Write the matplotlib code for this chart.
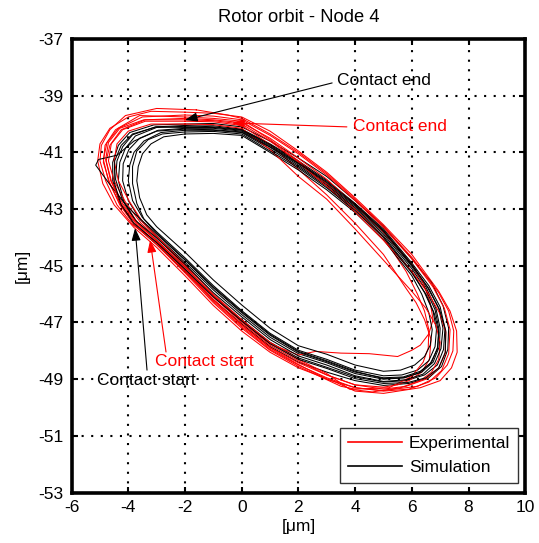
from matplotlib import pyplot as plt
import numpy as np

plt.rcParams['font.family'] = ['Liberation Sans', 'DejaVu Sans']
plt.rcParams['font.size'] = 12.5
plt.rcParams['axes.unicode_minus'] = False  # 用普通减号

# 坐标轴范围和刻度
x_ticks = [-6, -4, -2, 0, 2, 4, 6, 8, 10]
y_ticks = [-53, -51, -49, -47, -45, -43, -41, -39, -37]

# 仿真轨迹 (黑色), 每圈一组 (x, y)
sim_a = [(-2.0, -40.0), (-1.0, -39.98), (0.0, -40.1), (1.0, -40.6), (2.0, -41.2), (3.0, -41.85), (4.0, -42.7),
         (5.0, -43.6), (6.0, -44.75), (6.7, -45.6), (7.1, -46.4), (7.3, -47.2), (7.27, -47.95), (7.05, -48.55),
         (6.6, -48.95), (5.9, -49.15), (5.0, -49.22), (4.0, -49.05), (3.0, -48.75), (2.0, -48.4), (1.0, -47.85),
         (0.0, -47.05), (-1.0, -46.2), (-2.0, -45.2), (-3.0, -44.25), (-3.8, -43.55), (-4.3, -42.8), (-4.55, -42.0),
         (-4.55, -41.35), (-4.35, -40.75), (-3.95, -40.3), (-3.1, -40.03)]
sim_b = [(-2.0, -40.08), (-1.0, -40.06), (0.0, -40.18), (1.0, -40.7), (2.0, -41.3), (3.0, -41.98), (4.0, -42.8),
         (5.0, -43.7), (6.0, -44.9), (6.6, -45.7), (7.0, -46.45), (7.17, -47.2), (7.12, -47.95), (6.9, -48.5),
         (6.45, -48.85), (5.8, -49.05), (5.0, -49.1), (4.0, -48.92), (3.0, -48.58), (2.0, -48.25), (1.0, -47.7),
         (0.0, -46.9), (-1.0, -46.05), (-2.0, -45.05), (-3.0, -44.1), (-3.7, -43.45), (-4.15, -42.75), (-4.35, -42.0),
         (-4.3, -41.35), (-4.1, -40.85), (-3.75, -40.42), (-3.0, -40.12)]
sim_c = [(-2.0, -40.15), (-1.0, -40.15), (0.0, -40.25), (1.0, -40.8), (2.0, -41.4), (3.0, -42.1), (4.0, -42.9),
         (5.0, -43.82), (6.0, -45.02), (6.5, -45.75), (6.85, -46.5), (7.0, -47.2), (6.97, -47.85), (6.75, -48.4),
         (6.35, -48.75), (5.75, -48.95), (5.0, -49.0), (4.0, -48.8), (3.0, -48.42), (2.0, -48.1), (1.0, -47.52),
         (0.0, -46.72), (-1.0, -45.85), (-2.0, -44.88), (-3.0, -43.95), (-3.6, -43.35), (-4.0, -42.7), (-4.2, -42.0),
         (-4.18, -41.4), (-3.98, -40.9), (-3.6, -40.5), (-2.95, -40.22)]
sim_d = [(-2.0, -40.22), (-1.0, -40.22), (0.0, -40.3), (1.0, -40.88), (2.0, -41.5), (3.0, -42.2), (4.0, -43.0),
         (5.0, -43.95), (6.0, -45.2), (6.45, -45.95), (6.75, -46.6), (6.87, -47.25), (6.82, -47.85), (6.6, -48.35),
         (6.2, -48.68), (5.65, -48.85), (5.0, -48.88), (4.0, -48.68), (3.0, -48.3), (2.0, -47.98), (1.0, -47.38),
         (0.0, -46.58), (-1.0, -45.7), (-2.0, -44.72), (-3.0, -43.8), (-3.5, -43.3), (-3.85, -42.7), (-4.0, -42.0),
         (-3.95, -41.45), (-3.8, -41.0), (-3.45, -40.6), (-2.85, -40.3)]
sim_e = [(-2.0, -40.35), (-1.0, -40.33), (0.0, -40.4), (1.0, -41.0), (2.0, -41.62), (3.0, -42.32), (4.0, -43.12),
         (5.0, -44.08), (6.0, -45.35), (6.35, -46.0), (6.6, -46.65), (6.72, -47.25), (6.65, -47.8), (6.45, -48.2),
         (6.1, -48.5), (5.6, -48.68), (5.0, -48.72), (4.0, -48.5), (3.0, -48.12), (2.0, -47.82), (1.0, -47.2),
         (0.0, -46.38), (-1.0, -45.5), (-2.0, -44.52), (-3.0, -43.62), (-3.35, -43.2), (-3.6, -42.6), (-3.7, -42.0),
         (-3.65, -41.5), (-3.5, -41.05), (-3.2, -40.7), (-2.75, -40.45)]
sim_f = [(-2.0, -40.05), (-1.0, -40.1), (0.0, -40.2), (1.0, -40.72), (2.0, -41.35), (3.0, -42.02), (4.0, -42.82),
         (5.0, -43.75), (6.0, -44.95), (6.55, -45.75), (6.95, -46.5), (7.1, -47.2), (7.03, -47.92), (6.8, -48.45),
         (6.4, -48.82), (5.8, -49.02), (5.0, -49.08), (4.0, -48.88), (3.0, -48.5), (2.0, -48.18), (1.0, -47.6),
         (0.0, -46.8), (-1.0, -45.95), (-2.0, -44.95), (-3.0, -44.02), (-3.75, -43.4), (-4.2, -42.7), (-4.45, -41.95),
         (-4.4, -41.3), (-4.2, -40.8), (-3.85, -40.38), (-3.05, -40.1)]
sim_g = [(-2.0, -40.18), (-1.0, -40.2), (0.0, -40.28), (1.0, -40.82), (2.0, -41.45), (3.0, -42.15), (4.0, -42.95),
         (5.0, -43.88), (6.0, -45.1), (6.5, -45.85), (6.82, -46.55), (6.95, -47.2), (6.92, -47.85), (6.7, -48.4),
         (6.3, -48.72), (5.7, -48.92), (5.0, -48.95), (4.0, -48.75), (3.0, -48.38), (2.0, -48.05), (1.0, -47.45),
         (0.0, -46.65), (-1.0, -45.78), (-2.0, -44.8), (-3.0, -43.88), (-4.0, -42.95), (-4.6, -42.2), (-5.15, -41.45),
         (-5.05, -41.25), (-4.4, -41.1), (-3.8, -40.6), (-3.0, -40.25)]
sim_h = [(-2.0, -40.28), (-1.0, -40.26), (0.0, -40.35), (1.0, -40.95), (2.0, -41.55), (3.0, -42.25), (4.0, -43.05),
         (5.0, -44.0), (6.0, -45.25), (6.5, -46.0), (6.8, -46.7), (6.95, -47.35), (6.9, -47.95), (6.65, -48.45),
         (6.25, -48.78), (5.7, -48.95), (5.0, -48.98), (4.0, -48.72), (3.0, -48.35), (2.0, -48.02), (1.0, -47.42),
         (0.0, -46.62), (-1.0, -45.75), (-2.0, -44.78), (-3.0, -43.85), (-3.45, -43.35), (-3.7, -42.8), (-3.85, -42.1),
         (-3.85, -41.5), (-3.7, -40.95), (-3.3, -40.55), (-2.8, -40.35)]
sim_i = [(-2.0, -40.12), (-1.0, -40.12), (0.0, -40.22), (1.0, -40.76), (2.0, -41.38), (3.0, -42.06), (4.0, -42.86),
         (5.0, -43.78), (6.0, -44.98), (6.6, -45.8), (6.98, -46.55), (7.2, -47.3), (7.18, -48.05), (6.95, -48.6),
         (6.5, -48.95), (5.85, -49.12), (5.0, -49.15), (4.0, -48.98), (3.0, -48.62), (2.0, -48.3), (1.0, -47.75),
         (0.0, -46.95), (-1.0, -46.1), (-2.0, -45.12), (-3.0, -44.18), (-3.8, -43.5), (-4.25, -42.85), (-4.5, -42.05),
         (-4.48, -41.3), (-4.25, -40.75), (-3.85, -40.35), (-3.0, -40.1)]

# 实验轨迹 (红色)
exp_a = [(-2.0, -39.58), (-1.0, -39.62), (0.0, -39.75), (1.0, -40.25), (2.0, -40.95), (3.0, -41.7), (4.0, -42.6),
         (5.0, -43.55), (6.0, -44.6), (6.95, -45.9), (7.35, -46.6), (7.58, -47.3), (7.6, -48.05), (7.4, -48.6),
         (7.0, -49.05), (6.3, -49.3), (5.0, -49.5), (4.0, -49.42), (3.3, -49.1), (2.0, -48.6), (1.0, -48.05),
         (0.0, -47.3), (-1.0, -46.4), (-2.0, -45.35), (-3.0, -44.35), (-3.8, -43.65), (-4.5, -42.85), (-4.9, -42.1),
         (-5.08, -41.3), (-5.0, -40.7), (-4.65, -40.15), (-4.0, -39.75), (-3.2, -39.55)]
exp_b = [(-2.0, -39.68), (-1.0, -39.72), (0.0, -39.85), (1.0, -40.4), (2.0, -41.05), (3.0, -41.8), (4.0, -42.7),
         (5.0, -43.65), (6.0, -44.75), (6.75, -45.75), (7.15, -46.5), (7.35, -47.25), (7.3, -48.1), (7.05, -48.7),
         (6.6, -49.1), (5.9, -49.35), (5.0, -49.42), (4.0, -49.3), (3.0, -48.95), (2.0, -48.5), (1.0, -47.95),
         (0.0, -47.15), (-1.0, -46.25), (-2.0, -45.2), (-3.0, -44.2), (-3.7, -43.55), (-4.3, -42.8), (-4.7, -42.0),
         (-4.88, -41.25), (-4.75, -40.65), (-4.35, -40.15), (-3.5, -39.75)]
exp_c = [(-2.0, -39.9), (-1.0, -39.92), (0.0, -40.05), (1.0, -40.72), (2.0, -41.6), (3.0, -42.5), (4.0, -43.5),
         (5.0, -44.6), (5.8, -45.8), (6.15, -46.3), (6.45, -46.9), (6.68, -47.6), (6.62, -48.3), (6.35, -48.75),
         (5.9, -49.05), (5.5, -49.2), (5.0, -49.28), (4.0, -49.2), (3.0, -48.85), (2.0, -48.35), (1.0, -47.8),
         (0.0, -47.0), (-1.0, -46.1), (-2.0, -45.0), (-3.0, -44.0), (-3.55, -43.5), (-4.1, -42.75), (-4.5, -42.0),
         (-4.7, -41.3), (-4.6, -40.7), (-4.2, -40.2), (-3.4, -39.9)]
exp_d = [(-2.0, -39.8), (-1.0, -39.85), (0.0, -39.95), (1.0, -40.5), (2.0, -41.2), (3.0, -41.95), (4.0, -42.85),
         (5.0, -43.8), (6.0, -44.95), (6.4, -45.6), (6.65, -46.3), (6.75, -46.9), (6.6, -47.4), (6.3, -47.8),
         (6.0, -47.98), (5.5, -48.2), (4.5, -48.1), (3.5, -48.08), (2.6, -48.02), (2.0, -48.15), (1.0, -47.75),
         (0.0, -46.95), (-1.0, -46.05), (-2.0, -45.05), (-3.0, -44.1), (-3.65, -43.5), (-4.2, -42.8), (-4.6, -42.0),
         (-4.78, -41.3), (-4.65, -40.75), (-4.25, -40.2), (-3.4, -39.85)]
exp_e = [(-2.0, -39.75), (-1.0, -39.8), (0.0, -39.9), (1.0, -40.55), (2.0, -41.3), (3.0, -42.1), (4.0, -43.0),
         (5.0, -44.0), (5.8, -45.2), (6.2, -46.0), (6.45, -46.6), (6.6, -47.25), (6.58, -47.9), (6.4, -48.4),
         (6.0, -48.9), (5.2, -49.3), (4.0, -49.35), (3.5, -49.25), (2.0, -48.55), (1.0, -47.98), (0.0, -47.2),
         (-1.0, -46.3), (-2.0, -45.25), (-3.0, -44.25), (-3.75, -43.6), (-4.3, -42.85), (-4.65, -42.1),
         (-4.88, -41.35), (-4.82, -40.75), (-4.45, -40.2), (-3.6, -39.7)]
exp_f = [(-2.0, -40.0), (-1.0, -40.02), (0.0, -40.15), (1.0, -40.9), (2.0, -41.85), (3.0, -42.65), (4.0, -43.7),
         (5.0, -44.8), (6.0, -45.9), (6.5, -46.5), (6.85, -47.1), (7.0, -47.7), (6.95, -48.3), (6.7, -48.75),
         (6.3, -49.05), (5.6, -49.3), (4.6, -49.45), (3.8, -49.35), (3.0, -48.8), (2.0, -48.3), (1.0, -47.7),
         (0.0, -46.9), (-1.0, -46.0), (-2.0, -44.95), (-3.0, -43.95), (-3.5, -43.45), (-3.95, -42.75), (-4.35, -42.0),
         (-4.5, -41.3), (-4.4, -40.7), (-4.0, -40.25), (-3.2, -40.0)]
exp_g = [(-1.6, -39.5), (-0.5, -39.68), (0.0, -39.8), (1.0, -40.35), (2.0, -41.0), (3.0, -41.75), (4.0, -42.65),
         (5.0, -43.6), (6.0, -44.7), (6.95, -45.95), (7.3, -46.6), (7.48, -47.3), (7.45, -48.0), (7.25, -48.5),
         (6.85, -48.95), (6.2, -49.25), (5.0, -49.4), (4.0, -49.3), (3.0, -49.0), (2.0, -48.48), (1.0, -47.9),
         (0.0, -47.1), (-1.0, -46.2), (-2.0, -45.15), (-3.0, -44.15), (-3.85, -43.55), (-4.4, -42.85), (-4.8, -42.0),
         (-5.0, -41.3), (-4.95, -40.75), (-4.65, -40.2), (-4.1, -39.7), (-3.0, -39.45)]
exp_h = [(-2.0, -39.85), (-1.0, -39.88), (0.0, -40.0), (1.0, -40.6), (2.0, -41.35), (3.0, -42.2), (4.0, -43.1),
         (5.0, -44.1), (6.0, -45.2), (6.6, -46.0), (7.0, -46.7), (7.2, -47.35), (7.18, -48.1), (6.95, -48.6),
         (6.5, -49.0), (5.8, -49.25), (5.0, -49.35), (4.0, -49.2), (3.0, -48.85), (2.0, -48.42), (1.0, -47.88),
         (0.0, -47.08), (-1.0, -46.18), (-2.0, -45.12), (-3.0, -44.12), (-3.7, -43.5), (-4.25, -42.8), (-4.62, -42.0),
         (-4.8, -41.25), (-4.7, -40.65), (-4.3, -40.15), (-3.45, -39.85)]

sim_loops = [sim_a, sim_b, sim_c, sim_d, sim_e, sim_f, sim_g, sim_h, sim_i]
exp_loops = [exp_a, exp_b, exp_c, exp_d, exp_e, exp_f, exp_g, exp_h]

# 标注: 文字, 颜色, 文字位置, 箭头尾, 箭头头
note_texts = ["Contact end", "Contact end", "Contact start", "Contact start"]
note_colors = ["black", "red", "black", "red"]
note_text_xy = [(3.36, -38.48), (3.93, -40.10), (-5.10, -49.06), (-3.06, -48.36)]
note_tail_xy = [(3.19, -38.55), (3.71, -40.10), (-3.34, -48.68), (-2.67, -48.04)]
note_head_xy = [(-2.0, -39.86), (-0.34, -39.96), (-3.76, -43.67), (-3.23, -44.09)]


def closed(loop):
    pts = np.array(loop + [loop[0]])
    return pts[:, 0], pts[:, 1]


W, H = 539, 543
fig = plt.figure(figsize=(W / 100, H / 100), dpi=100)
ax = fig.add_axes([71.6 / W, 1 - 492.6 / H, (525.2 - 71.6) / W, (492.6 - 39) / H])

# 红黑交替画, 互相压盖
for i in range(max(len(sim_loops), len(exp_loops))):
    if i < len(exp_loops):
        x, y = closed(exp_loops[i])
        ax.plot(x, y, color='red', linewidth=0.75)
    if i < len(sim_loops):
        x, y = closed(sim_loops[i])
        ax.plot(x, y, color='black', linewidth=0.75)

# 图例只需要两条
h_exp, = ax.plot([], [], color='red', linewidth=1.2, label='Experimental')
h_sim, = ax.plot([], [], color='black', linewidth=1.2, label='Simulation')

for txt, col, txy, tail, head in zip(note_texts, note_colors, note_text_xy, note_tail_xy, note_head_xy):
    ax.annotate("", xy=head, xytext=tail,
                arrowprops=dict(arrowstyle='-|>,head_length=0.6,head_width=0.22', color=col,
                                linewidth=0.8, shrinkA=0, shrinkB=0))
    ax.text(txy[0], txy[1], txt, color=col, ha='left', va='center', fontsize=12.5)

ax.set_xlim(-6, 10)
ax.set_ylim(-53, -37)
ax.set_xticks(x_ticks)
ax.set_yticks(y_ticks)
ax.tick_params(direction='in', length=4, width=1.5, top=True, right=True, labelsize=12.5)
ax.tick_params(axis='x', pad=5)
ax.tick_params(axis='y', pad=6)
ax.grid(True, color='black', linestyle=(0, (1, 3.6)), linewidth=1.5)
for s in ax.spines.values():
    s.set_linewidth(2.6)

ax.set_title("Rotor orbit - Node 4", fontsize=13.2, pad=12)
ax.set_xlabel("[μm]", fontsize=12.5, labelpad=3)
ax.set_ylabel("[μm]", fontsize=12.5, labelpad=6)

leg = ax.legend(handles=[h_exp, h_sim], loc='lower right', bbox_to_anchor=(0.984, 0.021), borderaxespad=0,
                fancybox=False, framealpha=1, edgecolor='#333333', handlelength=3.1, handletextpad=0.4,
                labelspacing=0.5, borderpad=0.45, fontsize=12.5)
leg.get_frame().set_linewidth(1.0)

fig.savefig("out.png", dpi=100)
